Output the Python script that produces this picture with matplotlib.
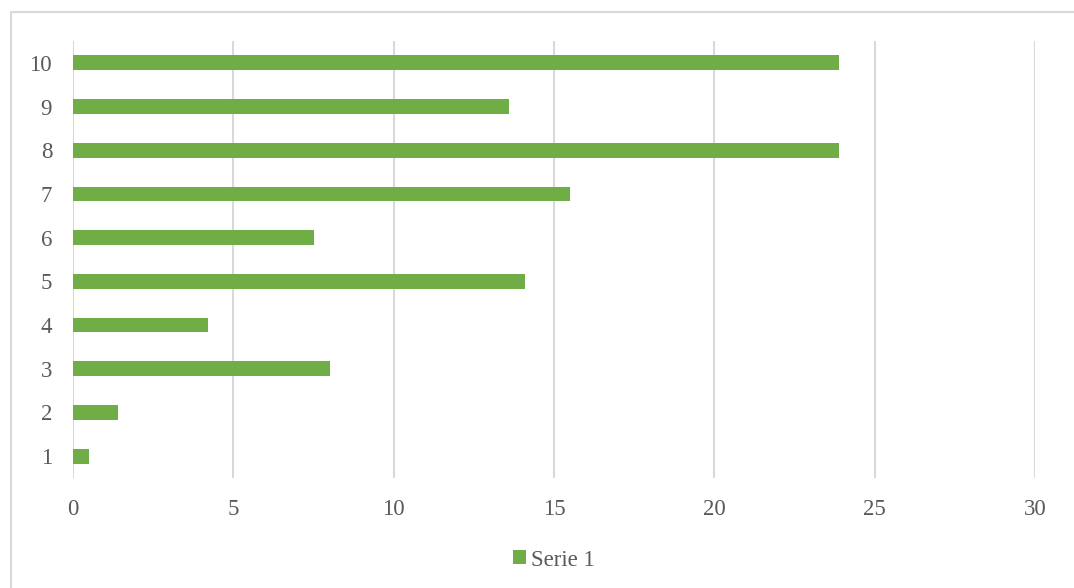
import matplotlib
matplotlib.use("Agg")
import matplotlib.pyplot as plt
from matplotlib.patches import Rectangle

# ─── Data ─────────────────────────────────────────────────────────────────────
categories = ["1", "2", "3", "4", "5", "6", "7", "8", "9", "10"]
serie1 = [0.5, 1.4, 8.0, 4.2, 14.1, 7.5, 15.5, 23.9, 13.6, 23.9]
x_ticks = [0, 5, 10, 15, 20, 25, 30]

GREEN = "#70AD47"
GRID = "#D9D9D9"
TEXT = "#595959"

plt.rcParams["font.family"] = ["Liberation Serif", "DejaVu Serif"]

fig = plt.figure(figsize=(10.74, 5.88), dpi=100)
ax = fig.add_axes([73 / 1074, 1 - 478 / 588, (1035 - 73) / 1074, (478 - 41) / 588])

pos = list(range(1, len(categories) + 1))
ax.barh(pos, serie1, height=0.34, color=GREEN, edgecolor="none", label="Serie 1", zorder=3)

ax.set_xlim(0, 30)
ax.set_ylim(0.5, 10.5)
ax.set_xticks(x_ticks)
ax.set_xticklabels([str(t) for t in x_ticks])
ax.set_yticks(pos)
ax.set_yticklabels(categories)

ax.grid(axis="x", color=GRID, linewidth=1.5, zorder=0)
ax.grid(axis="y", visible=False)
for s in ax.spines.values():
    s.set_visible(False)
ax.tick_params(axis="both", length=0, labelsize=16.5, colors=TEXT)
ax.tick_params(axis="x", pad=15)
ax.tick_params(axis="y", pad=15)

leg = ax.legend(loc="center", bbox_to_anchor=(0.5, -82 / 437), frameon=False,
                fontsize=16.5, handlelength=0.55, handleheight=0.55, handletextpad=0.25,
                borderpad=0)
for t in leg.get_texts():
    t.set_color(TEXT)

# chart border
fig.patches.append(Rectangle((11 / 1074, -0.01), 1.0, 1 - 12 / 588 + 0.01,
                             transform=fig.transFigure, fill=False,
                             edgecolor=GRID, linewidth=1.5))

fig.savefig("out.png", dpi=100)
